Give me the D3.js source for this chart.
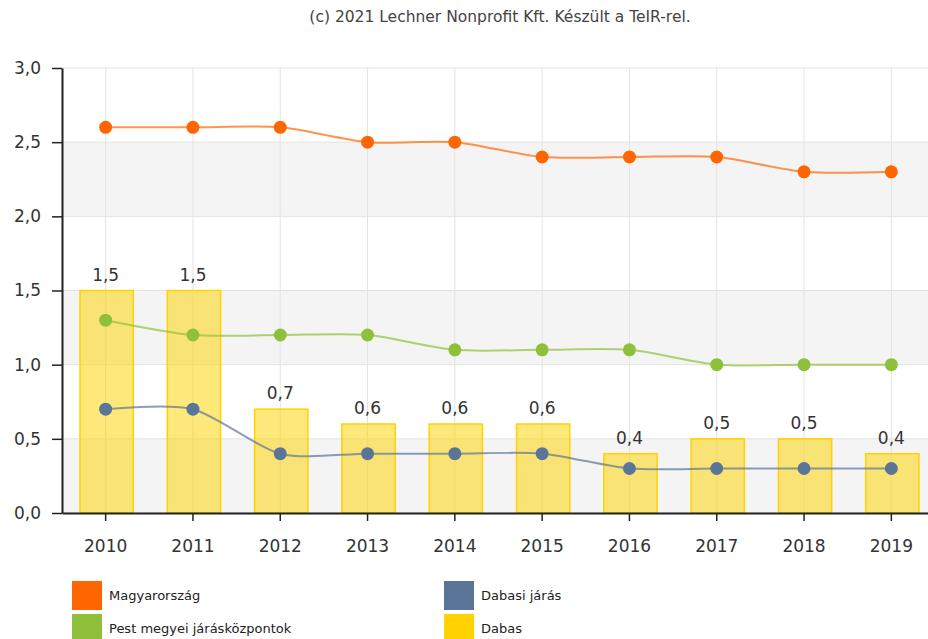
<!DOCTYPE html>
<html>
<head>
<meta charset="utf-8">
<script src="https://cdn.jsdelivr.net/npm/d3@7"></script>
<style>
  body { margin: 0; background: #fff; }
  svg { display: block; font-family: "DejaVu Sans", Verdana, sans-serif; }
</style>
</head>
<body>
<svg id="chart" width="928" height="639"></svg>
<script>
// chart data
var years = ["2010", "2011", "2012", "2013", "2014", "2015", "2016", "2017", "2018", "2019"];
var magyarorszag = [2.6, 2.6, 2.6, 2.5, 2.5, 2.4, 2.4, 2.4, 2.3, 2.3];
var pest = [1.3, 1.2, 1.2, 1.2, 1.1, 1.1, 1.1, 1.0, 1.0, 1.0];
var dabasiJaras = [0.7, 0.7, 0.4, 0.4, 0.4, 0.4, 0.3, 0.3, 0.3, 0.3];
var dabas = [1.5, 1.5, 0.7, 0.6, 0.6, 0.6, 0.4, 0.5, 0.5, 0.4];
var yTicks = [0, 0.5, 1.0, 1.5, 2.0, 2.5, 3.0];

var svg = d3.select("#chart");
var fmt = function(v) { return d3.format(".1f")(v).replace(".", ","); };

var x = d3.scaleBand().domain(years).range([62, 935]).paddingInner(0.39).paddingOuter(0.195);
var xc = function(d) { return x(d) + x.bandwidth() / 2; };
var y = d3.scaleLinear().domain([0, 3]).range([513, 68]);

// title
svg.append("text")
  .attr("x", 500).attr("y", 22)
  .attr("text-anchor", "middle")
  .attr("font-size", 15.5).attr("fill", "#444")
  .text("(c) 2021 Lechner Nonprofit Kft. Készült a TeIR-rel.");

// alternating bands
var bands = [[0, 0.5], [1.0, 1.5], [2.0, 2.5]];
svg.selectAll(".band").data(bands).enter().append("rect")
  .attr("x", 62).attr("width", 928 - 62)
  .attr("y", function(d) { return y(d[1]); })
  .attr("height", function(d) { return y(d[0]) - y(d[1]); })
  .attr("fill", "#f4f4f4");

// grid
svg.selectAll(".hgrid").data(yTicks).enter().append("line")
  .attr("x1", 62).attr("x2", 928)
  .attr("y1", function(d) { return y(d); }).attr("y2", function(d) { return y(d); })
  .attr("stroke", "#e3e3e3");
svg.selectAll(".vgrid").data(years).enter().append("line")
  .attr("x1", xc).attr("x2", xc)
  .attr("y1", 68).attr("y2", 513)
  .attr("stroke", "#e3e3e3");

// bars
svg.selectAll(".bar").data(years).enter().append("rect")
  .attr("x", function(d) { return x(d) + 1; })
  .attr("width", x.bandwidth())
  .attr("y", function(d, i) { return y(dabas[i]); })
  .attr("height", function(d, i) { return y(0) - y(dabas[i]); })
  .attr("fill", "#ffd200").attr("fill-opacity", 0.52)
  .attr("stroke", "#ffd200").attr("stroke-width", 1.5);

svg.selectAll(".blabel").data(years).enter().append("text")
  .attr("x", xc)
  .attr("y", function(d, i) { return y(dabas[i]) - 10; })
  .attr("text-anchor", "middle")
  .attr("font-size", 17).attr("fill", "#333")
  .text(function(d, i) { return fmt(dabas[i]); });

// lines
var series = [
  { values: dabasiJaras, color: "#5b7599" },
  { values: pest, color: "#8fc03c" },
  { values: magyarorszag, color: "#ff6600" }
];
var line = d3.line()
  .x(function(d, i) { return xc(years[i]); })
  .y(function(d) { return y(d); })
  .curve(d3.curveCardinal.tension(0.2));

series.forEach(function(s) {
  svg.append("path")
    .attr("d", line(s.values))
    .attr("fill", "none")
    .attr("stroke", s.color).attr("stroke-width", 2).attr("stroke-opacity", 0.7);
  svg.selectAll(null).data(s.values).enter().append("circle")
    .attr("cx", function(d, i) { return xc(years[i]); })
    .attr("cy", function(d) { return y(d); })
    .attr("r", 6.5)
    .attr("fill", s.color);
});

// axes
var yAxis = svg.append("g")
  .attr("transform", "translate(62,0)")
  .call(d3.axisLeft(y).tickValues(yTicks).tickSize(10).tickSizeOuter(0).tickFormat(fmt));
var xAxis = svg.append("g")
  .attr("transform", "translate(0,513)")
  .call(d3.axisBottom(x).tickSize(8).tickSizeOuter(0));
[yAxis, xAxis].forEach(function(a) {
  a.select(".domain").attr("stroke", "#222").attr("stroke-width", 2);
  a.selectAll(".tick line").attr("stroke", "#222").attr("stroke-width", 1.5);
  a.selectAll("text").attr("font-family", "DejaVu Sans, Verdana, sans-serif")
    .attr("font-size", 17).attr("fill", "#333");
});
yAxis.selectAll("text").attr("x", -21);
xAxis.selectAll("text").attr("y", 27);

// legend
var legend = [
  { name: "Magyarország", color: "#ff6600", x: 72, y: 581 },
  { name: "Pest megyei járásközpontok", color: "#8fc03c", x: 72, y: 614 },
  { name: "Dabasi járás", color: "#5b7599", x: 444, y: 581 },
  { name: "Dabas", color: "#ffd200", x: 444, y: 614 }
];
var lg = svg.selectAll(".legend").data(legend).enter().append("g")
  .attr("transform", function(d) { return "translate(" + d.x + "," + d.y + ")"; });
lg.append("rect").attr("width", 30).attr("height", 29)
  .attr("fill", function(d) { return d.color; });
lg.append("text").attr("x", 37).attr("y", 19)
  .attr("font-size", 13).attr("fill", "#222")
  .text(function(d) { return d.name; });
</script>
</body>
</html>
